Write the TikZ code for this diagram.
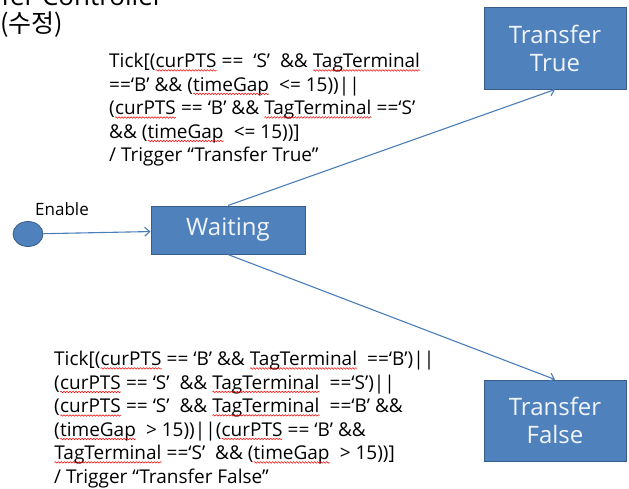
\documentclass[tikz,border=0pt]{standalone}
\usepackage{fontspec}
\setmainfont{Open Sans}
\newfontfamily\krfont{Noto Sans CJK KR}
\usetikzlibrary{positioning, shapes.geometric, arrows.meta, decorations.pathmorphing}

\definecolor{boxblue}{HTML}{4F81BD}
\definecolor{boxline}{HTML}{385D8A}
\definecolor{lineblue}{HTML}{4A7EBB}

% spell-check squiggle under a word
\newcommand\wavy[1]{\tikz[baseline=(wv.base)]{\node[inner sep=0pt, outer sep=0pt] (wv) {#1};
  \draw[red, line width=0.5pt, decorate, decoration={snake, amplitude=0.8pt, segment length=3pt}]
    ([yshift=-2.8pt]wv.base west) -- ([yshift=-2.8pt]wv.base east);}}

\begin{document}
\begin{tikzpicture}[x=1pt, y=-1pt,
    state/.style={rectangle, draw=boxline, line width=1pt, fill=boxblue, text=white!92!boxblue, font=\fontsize{24}{28}\selectfont, align=center},
    arrow/.style={-{Straight Barb[length=5pt, width=9pt]}, draw=lineblue, line width=1.1pt},
    cond/.style={align=left, font=\fontsize{19}{23.5}\selectfont, inner sep=0pt, anchor=north west}
]
\useasboundingbox (0,0) rectangle (629,488);

\node[anchor=base east, font=\fontsize{26}{30}\selectfont] (title) at (167,5) {Transfer Controller};
\node[anchor=base west, inner sep=0pt, font=\krfont\fontsize{25}{28}\selectfont] (sub) at (0,32) {(수정)};

\node[ellipse, fill=boxblue, draw=boxline, line width=0.8pt, minimum width=30, minimum height=25, inner sep=0pt] (start) at (28,234) {};
\node[anchor=base west, inner sep=0pt, font=\fontsize{17}{20}\selectfont] (enable) at (35,215) {Enable};

\node[state, minimum width=154, minimum height=48] (wait) at (228,230) {Waiting};
\node[state, minimum width=142, minimum height=82] (true) at (555,48) {Transfer\\True};
\node[state, minimum width=142, minimum height=81] (false) at (555,420.5) {Transfer\\False};

\draw[arrow] (start) -- (wait);
\draw[arrow] (wait.north) -- (true.south);
\draw[arrow] (wait.south) -- (false.north);

\node[cond] (truecond) at (109,53) {Tick[(\wavy{curPTS} ==\ \ ‘S’\ \ \&\& \wavy{TagTerminal}\\
  ==‘B’ \&\& (\wavy{timeGap}\ \ <= 15))||\\
  (\wavy{curPTS} == ‘B’ \&\& \wavy{TagTerminal} ==‘S’\\
  \&\& (\wavy{timeGap}\ \ <= 15))]\\
  / Trigger “Transfer True”};

\node[cond] (falsecond) at (54,351) {Tick[(\wavy{curPTS} == ‘B’ \&\& \wavy{TagTerminal}\ \ ==‘B’)||\\
  (\wavy{curPTS} == ‘S’\ \ \&\& \wavy{TagTerminal}\ \ ==‘S’)||\\
  (\wavy{curPTS} == ‘S’\ \ \&\& \wavy{TagTerminal}\ \ ==‘B’ \&\&\\
  (\wavy{timeGap}\ \ > 15))||(\wavy{curPTS} == ‘B’ \&\&\\
  \wavy{TagTerminal} ==‘S’\ \ \&\& (\wavy{timeGap}\ \ > 15))]\\
  / Trigger “Transfer False”};

\end{tikzpicture}
\end{document}
